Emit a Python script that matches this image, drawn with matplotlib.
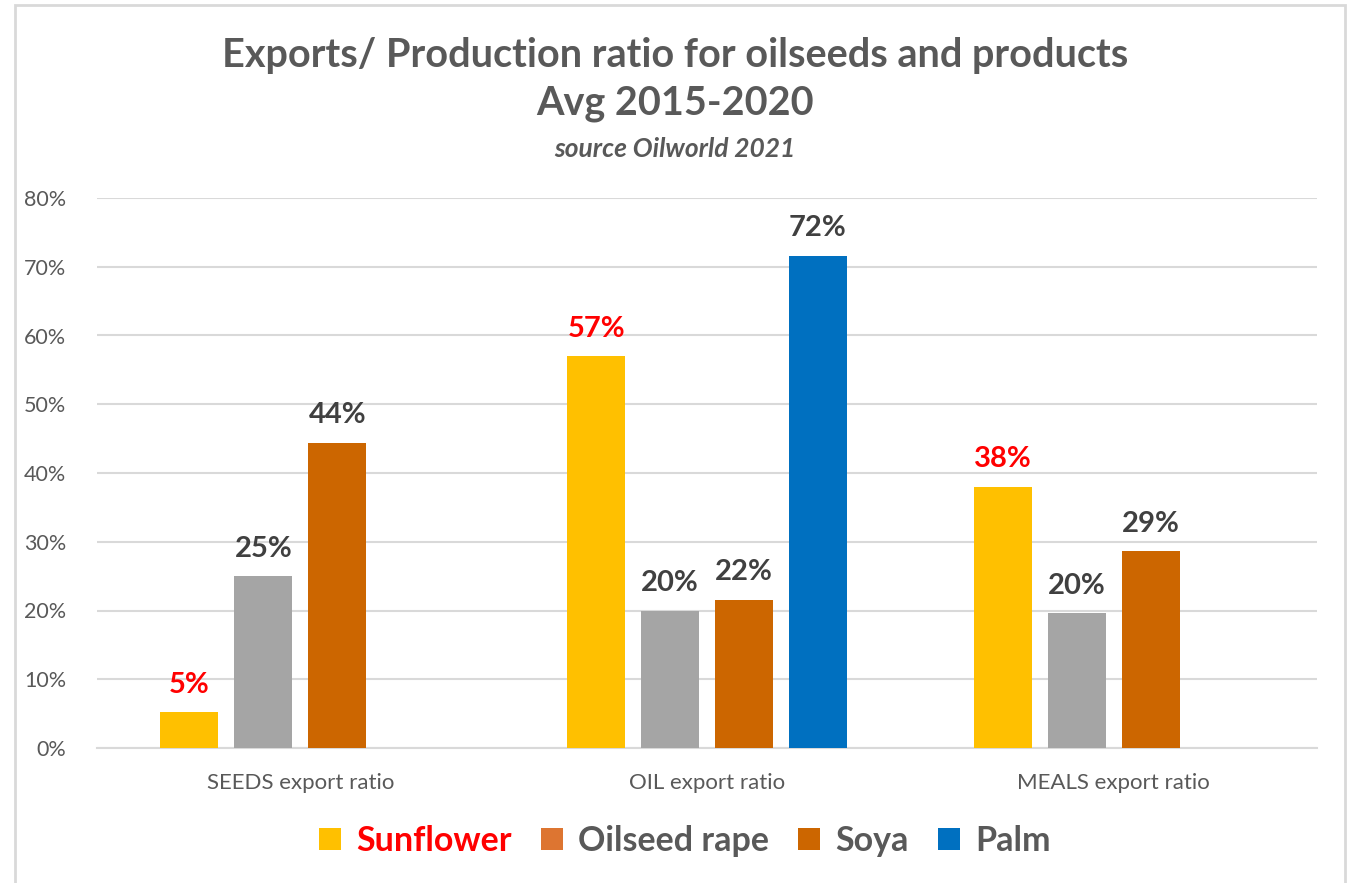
import numpy as np
import matplotlib.pyplot as plt
from matplotlib.patches import Patch, Rectangle
from matplotlib.ticker import PercentFormatter

categories = ["SEEDS export ratio", "OIL export ratio", "MEALS export ratio"]
series = ["Sunflower", "Oilseed rape", "Soya", "Palm"]
sunflower = [0.052, 0.570, 0.380]
rapeseed = [0.250, 0.200, 0.196]
soya = [0.444, 0.216, 0.286]
palm = [np.nan, 0.716, np.nan]

bar_colors = ["#FFC000", "#A5A5A5", "#CC6600", "#0070C0"]
legend_colors = ["#FFC000", "#DD7531", "#CC6600", "#0070C0"]
label_colors = ["#FF0000", "#404040", "#404040", "#404040"]
legend_text_colors = ["#FF0000", "#595959", "#595959", "#595959"]

plt.rcParams["font.family"] = ["Lato", "DejaVu Sans"]

W, H = 1350, 883
fig = plt.figure(figsize=(W / 100, H / 100), dpi=100)
ax = fig.add_axes([97 / W, (H - 748) / H, (1317 - 97) / W, (748 - 198) / H])

x = np.arange(len(categories))
step = 0.1818
width = 0.1425
for i, vals in enumerate([sunflower, rapeseed, soya, palm]):
    pos = x + (i - 1.5) * step
    ax.bar(pos, vals, width, color=bar_colors[i], zorder=3)
    for p, v in zip(pos, vals):
        if np.isnan(v):
            continue
        ax.text(p, v + 0.021, f"{v * 100:.0f}%", ha="center", va="bottom",
                fontsize=21, fontweight="bold", color=label_colors[i])

ax.set_xlim(-0.5, 2.5)
ax.set_ylim(0, 0.8)
ax.set_yticks(np.arange(0, 0.81, 0.1))
ax.yaxis.set_major_formatter(PercentFormatter(1.0, decimals=0))
ax.set_xticks(x)
ax.set_xticklabels(categories)
ax.tick_params(axis="x", length=0, labelsize=16, colors="#595959", pad=18)
ax.tick_params(axis="y", length=0, labelsize=15.5, colors="#595959", pad=22)
ax.grid(axis="y", color="#D9D9D9", linewidth=1.5, zorder=0)
for s in ["top", "right", "left"]:
    ax.spines[s].set_visible(False)
ax.spines["bottom"].set_color("#D9D9D9")
ax.spines["bottom"].set_linewidth(1.5)

fig.text(0.5, 1 - 56 / H, "Exports/ Production ratio for oilseeds and products",
         ha="center", va="center", fontsize=28.5, fontweight="bold", color="#595959")
fig.text(0.5, 1 - 104 / H, "Avg 2015-2020", ha="center", va="center",
         fontsize=28.5, fontweight="bold", color="#595959")
fig.text(0.5, 1 - 149 / H, "source Oilworld 2021", ha="center", va="center",
         fontsize=19, fontweight="bold", fontstyle="italic", color="#595959")

handles = [Patch(facecolor=c) for c in legend_colors]
leg = fig.legend(handles, series, loc="center", bbox_to_anchor=(685 / W, 1 - 841 / H),
                 ncol=4, frameon=False, handlelength=0.65, handleheight=0.65,
                 handletextpad=0.45, columnspacing=0.85,
                 prop={"size": 24.5, "weight": "bold"})
for t, c in zip(leg.get_texts(), legend_text_colors):
    t.set_color(c)

# outer chart border
fig.patches.append(Rectangle((15 / W, -0.1), (1345 - 15) / W, 1.1 - 5 / H,
                             transform=fig.transFigure, fill=False,
                             edgecolor="#D9D9D9", linewidth=2))

fig.savefig("out.png", dpi=100)
